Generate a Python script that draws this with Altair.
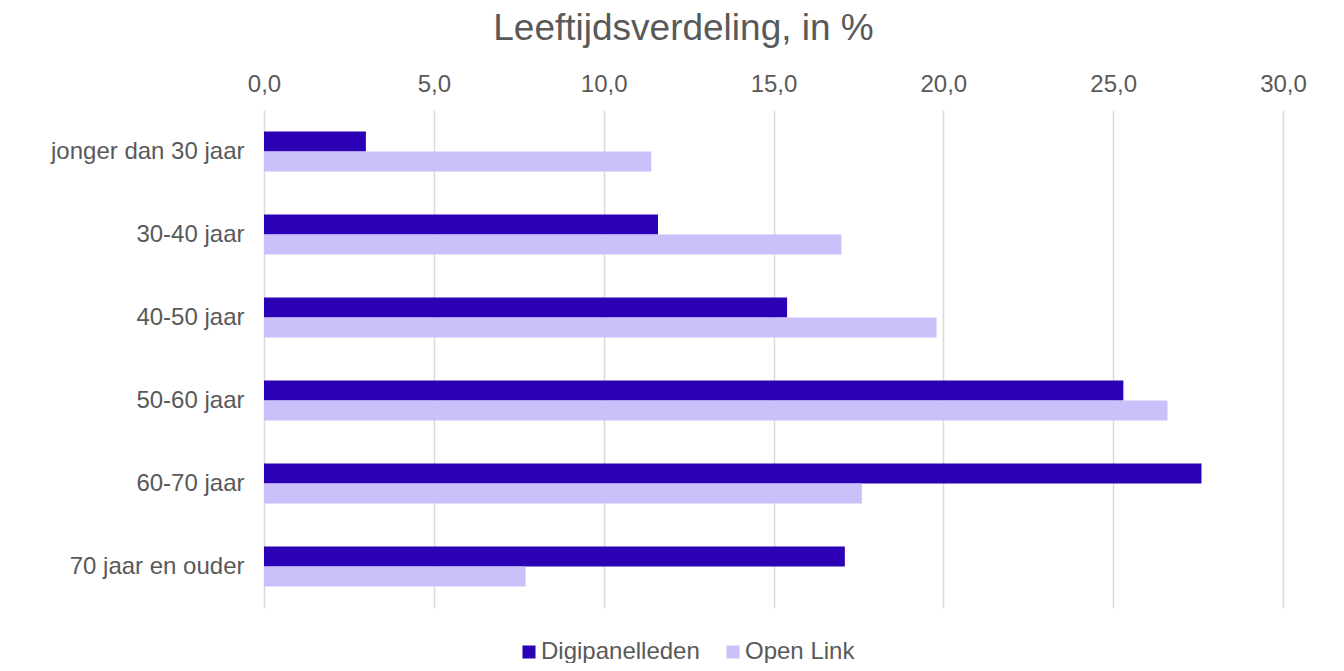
import altair as alt
import pandas as pd

categories = ["jonger dan 30 jaar", "30-40 jaar", "40-50 jaar", "50-60 jaar", "60-70 jaar", "70 jaar en ouder"]
series = ["Digipanelleden", "Open Link"]
digipanelleden = [3.0, 11.6, 15.4, 25.3, 27.6, 17.1]
open_link = [11.4, 17.0, 19.8, 26.6, 17.6, 7.7]
colors = ["#2C00B5", "#CCC0FB"]
x_ticks = [0, 5, 10, 15, 20, 25, 30]

rows = []
for i, c in enumerate(categories):
    rows.append({"cat": c, "series": series[0], "value": digipanelleden[i]})
    rows.append({"cat": c, "series": series[1], "value": open_link[i]})
df = pd.DataFrame(rows)

FONT = "Liberation Sans"
GREY = "#595959"

chart = alt.Chart(df).mark_bar().encode(
    x=alt.X(
        "value:Q",
        scale=alt.Scale(domain=[0, 30], nice=False),
        axis=alt.Axis(
            orient="top", values=x_ticks, title=None,
            labelExpr="replace(format(datum.value, '.1f'), '.', ',')",
            grid=True, gridColor="#D9D9D9", gridWidth=1.5,
            domain=False, ticks=False, labelFlush=False,
            labelFontSize=24, labelColor=GREY, labelFont=FONT, labelPadding=14,
        ),
    ),
    y=alt.Y(
        "cat:N", sort=categories,
        scale=alt.Scale(paddingInner=0.518, paddingOuter=0.259),
        axis=alt.Axis(
            title=None, domain=False, ticks=False, labelLimit=400,
            labelFontSize=24, labelColor=GREY, labelFont=FONT, labelPadding=20,
        ),
    ),
    yOffset=alt.YOffset("series:N", sort=series),
    color=alt.Color(
        "series:N",
        scale=alt.Scale(domain=series, range=colors),
        legend=alt.Legend(
            title=None, orient="none", direction="horizontal",
            legendX=253, legendY=530, padding=0,
            symbolType="square", symbolSize=169, symbolStrokeWidth=0,
            labelFontSize=24, labelColor=GREY, labelFont=FONT,
            labelOffset=0, columnPadding=21,
        ),
    ),
).properties(
    width=1019,
    height=498,
    autosize="none",
    padding={"left": 256, "top": 102, "right": 53, "bottom": 55},
    title=alt.TitleParams(
        "Leeftijdsverdeling, in %",
        font=FONT, fontSize=37, fontWeight="normal", color=GREY,
        anchor="middle", dx=-90, offset=24,
    ),
).configure_view(stroke=None)

chart.save("out.html", embed_options={"renderer": "svg", "actions": False})
